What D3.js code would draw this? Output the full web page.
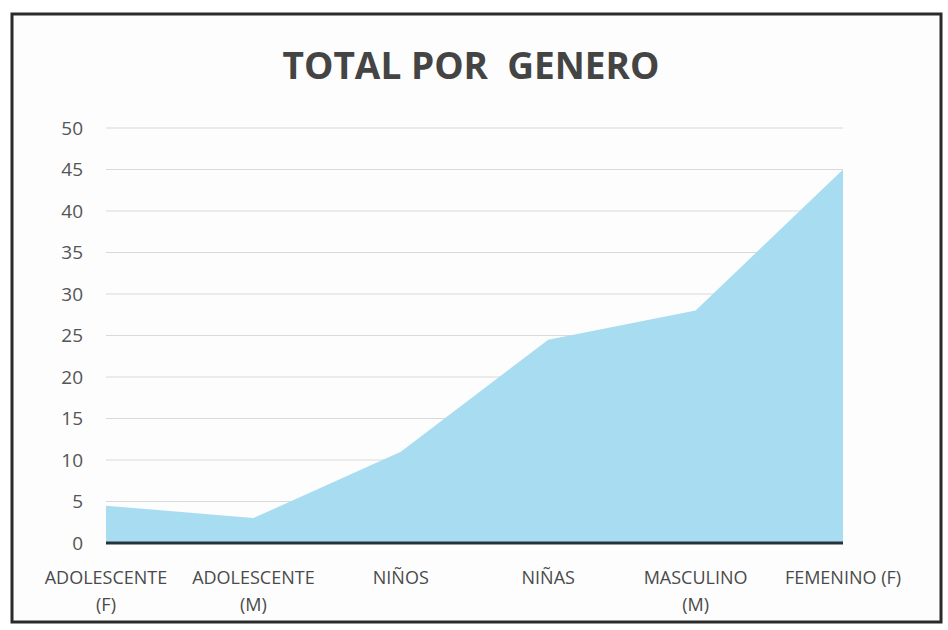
<!DOCTYPE html>
<html>
<head>
<meta charset="utf-8">
<script src="https://cdn.jsdelivr.net/npm/d3@7"></script>
<style>
  body { margin: 0; background: #fff; }
  svg text { font-family: "Open Sans", Lato, sans-serif; }
</style>
</head>
<body>
<svg id="chart" width="948" height="630"></svg>
<script>
var categories = [["ADOLESCENTE", "(F)"], ["ADOLESCENTE", "(M)"], ["NIÑOS"], ["NIÑAS"], ["MASCULINO", "(M)"], ["FEMENINO (F)"]];
var values = [4.5, 3, 11, 24.5, 28, 45];
var yTicks = [0, 5, 10, 15, 20, 25, 30, 35, 40, 45, 50];

var svg = d3.select("#chart");

// frame
svg.append("rect")
  .attr("x", 12).attr("y", 14)
  .attr("width", 929).attr("height", 608)
  .attr("fill", "#fdfdfd")
  .attr("stroke", "#2a2a2a")
  .attr("stroke-width", 3);

svg.append("text")
  .attr("x", 471).attr("y", 79)
  .attr("text-anchor", "middle")
  .style("font-size", "37px")
  .style("font-weight", "bold")
  .style("fill", "#444")
  .attr("xml:space", "preserve")
  .text("TOTAL POR  GENERO");

var x = d3.scalePoint()
  .domain(d3.range(categories.length))
  .range([106, 843]);

var y = d3.scaleLinear()
  .domain([0, 50])
  .range([543, 128]);

// gridlines
svg.append("g")
  .selectAll("line")
  .data(yTicks.slice(1))
  .enter().append("line")
  .attr("x1", 106).attr("x2", 843)
  .attr("y1", function(d) { return y(d); })
  .attr("y2", function(d) { return y(d); })
  .attr("stroke", "#d9d9d9")
  .attr("stroke-width", 1);

var area = d3.area()
  .x(function(d, i) { return x(i); })
  .y0(y(0))
  .y1(function(d) { return y(d); });

svg.append("path")
  .datum(values)
  .attr("d", area)
  .attr("fill", "#a8ddf1");

// y axis labels
var yAxis = svg.append("g")
  .attr("transform", "translate(83,0)")
  .call(d3.axisLeft(y).tickValues(yTicks).tickSize(0).tickPadding(0));
yAxis.select(".domain").remove();
yAxis.selectAll("text")
  .style("font-size", "19px")
  .style("fill", "#555")
  .style("font-family", "'Open Sans', Lato, sans-serif");

// baseline
svg.append("line")
  .attr("x1", 106).attr("x2", 843)
  .attr("y1", y(0)).attr("y2", y(0))
  .attr("stroke", "#26323a")
  .attr("stroke-width", 3);

// category labels
var cat = svg.append("g").selectAll("text")
  .data(categories)
  .enter().append("text")
  .attr("text-anchor", "middle")
  .attr("x", function(d, i) { return x(i); })
  .attr("y", 584)
  .style("font-size", "18px")
  .style("fill", "#4a4a4a");

cat.selectAll("tspan")
  .data(function(d) { return d; })
  .enter().append("tspan")
  .attr("x", function() { return d3.select(this.parentNode).attr("x"); })
  .attr("dy", function(d, i) { return i ? 27 : 0; })
  .text(function(d) { return d; });
</script>
</body>
</html>
